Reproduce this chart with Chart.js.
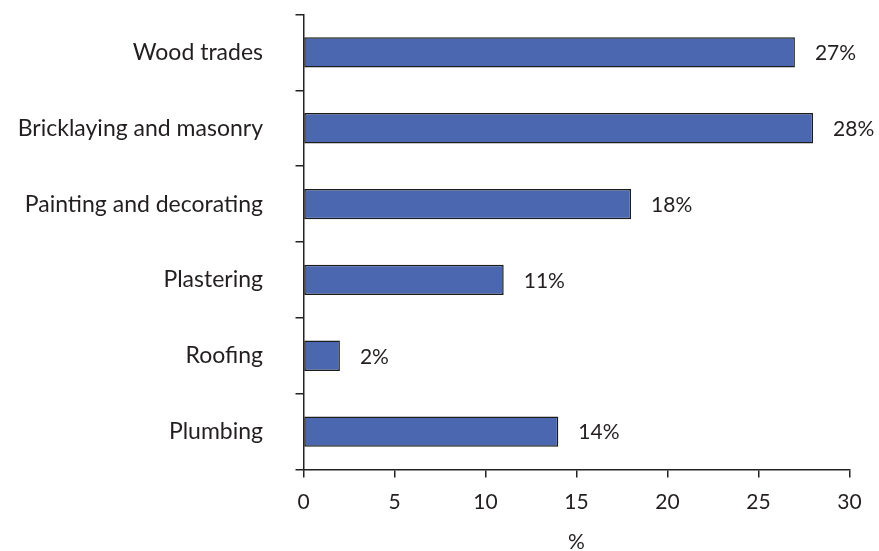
<!DOCTYPE html>
<html>
<head>
<meta charset="utf-8">
<script src="https://cdn.jsdelivr.net/npm/chart.js@4/dist/chart.umd.min.js"></script>
<style>
html,body{margin:0;padding:0;background:#fff;}
#wrap{width:879px;height:551px;position:relative;}
</style>
</head>
<body>
<div id="wrap"><canvas id="c" width="879" height="551"></canvas></div>
<script>
const categories = ["Wood trades","Bricklaying and masonry","Painting and decorating","Plastering","Roofing","Plumbing"];
const values = [27, 28, 18, 11, 2, 14];
const xTicks = [0, 5, 10, 15, 20, 25, 30];
const axisTitle = "%";

const FONT = "Lato, 'Open Sans', sans-serif";
const TEXT = "#231f20";

const valueLabels = {
  id: 'valueLabels',
  afterDatasetsDraw(chart) {
    const ctx = chart.ctx;
    const meta = chart.getDatasetMeta(0);
    ctx.save();
    ctx.font = "21px " + FONT;
    ctx.fillStyle = TEXT;
    ctx.textAlign = 'left';
    ctx.textBaseline = 'middle';
    meta.data.forEach((bar, i) => {
      ctx.fillText(values[i] + '%', bar.x + 20, bar.y + 1);
    });
    ctx.restore();
  }
};

new Chart(document.getElementById('c'), {
  type: 'bar',
  data: {
    labels: categories,
    datasets: [{
      data: values,
      backgroundColor: '#4a67b0',
      borderColor: '#1c1c1c',
      borderWidth: 1.5,
      borderSkipped: false,
      categoryPercentage: 0.4,
      barPercentage: 1.0
    }]
  },
  options: {
    indexAxis: 'y',
    responsive: false,
    animation: false,
    layout: { padding: { left: 0, right: 29.5, top: 14.5, bottom: 0 } },
    plugins: { legend: { display: false }, tooltip: { enabled: false } },
    scales: {
      x: {
        type: 'linear',
        min: 0, max: 30,
        afterBuildTicks(scale) { scale.ticks = xTicks.map(v => ({ value: v })); },
        afterFit(scale) { scale.height = 81.5; scale.paddingLeft = 0; scale.paddingRight = 0; },
        grid: { drawOnChartArea: false, drawTicks: true, tickLength: 8, color: '#222', lineWidth: 1.5 },
        border: { display: true, color: '#222', width: 1.5 },
        ticks: { font: { family: FONT, size: 21 }, color: TEXT, padding: 12 },
        title: { display: true, text: axisTitle, font: { family: FONT, size: 21, lineHeight: 1 }, color: TEXT, padding: { top: 0, bottom: -2 } }
      },
      y: {
        type: 'category',
        afterFit(scale) { scale.width = 303.5; scale.paddingTop = 0; scale.paddingBottom = 0; },
        grid: { drawOnChartArea: false, drawTicks: true, tickLength: 8, color: '#222', lineWidth: 1.5, offset: true },
        border: { display: true, color: '#222', width: 1.5 },
        ticks: { font: { family: FONT, size: 23 }, color: TEXT, padding: 32.5 }
      }
    }
  },
  plugins: [valueLabels]
});
</script>
</body>
</html>
